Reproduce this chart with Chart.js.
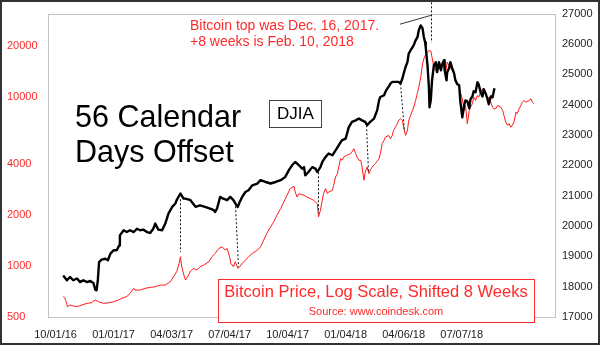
<!DOCTYPE html>
<html>
<head>
<meta charset="utf-8">
<title>DJIA vs Bitcoin, 56 Calendar Days Offset</title>
<script src="https://cdn.jsdelivr.net/npm/chart.js@4.4.1/dist/chart.umd.min.js"></script>
<style>
  html, body { margin: 0; padding: 0; background: #fff; }
  #chart { display: block; }
</style>
</head>
<body>
<canvas id="chart" width="600" height="345"></canvas>
<script>
// x axis is counted in days from 10/01/16
const dateTickDays = [0, 92, 184, 276, 368, 460, 552, 644];
const dateLabels = ['10/01/16', '01/01/17', '04/03/17', '07/04/17', '10/04/17', '01/04/18', '04/06/18', '07/07/18'];

const btcTicks = [500, 1000, 2000, 4000, 10000, 20000];
const djiaTicks = [17000, 18000, 19000, 20000, 21000, 22000, 23000, 24000, 25000, 26000, 27000];

// Dow Jones Industrial Average
const djiaDays = [12, 18, 23, 28, 34, 39, 44, 50, 55, 60, 63, 65, 67, 69, 73, 79, 83, 87, 92, 97,
  101, 102, 108, 113, 118, 124, 129, 134, 139, 145, 150, 155, 158, 163, 169, 174, 179, 185, 190, 192,
  198, 203, 206, 214, 222, 229, 237, 245, 251, 253, 256, 261, 266, 272, 277, 282, 287, 289, 292, 296,
  301, 306, 312, 320, 325, 333, 341, 349, 357, 364, 370, 375, 380, 386, 391, 394, 396, 401, 407, 412,
  415, 420, 423, 428, 433, 439, 444, 449, 454, 460, 465, 470, 476, 481, 486, 491, 494, 499, 505, 507,
  510, 513, 515, 521, 523, 526, 528, 531, 534, 539, 544, 547, 550, 552, 555, 558, 560, 563, 568, 571,
  574, 576, 579, 582, 584, 586, 587, 590, 592, 593, 595, 597, 600, 603, 605, 608, 611, 613, 616, 617,
  620, 621, 624, 626, 629, 632, 634, 637, 640, 642, 645, 648, 650, 653, 656, 658, 661, 663, 666, 669,
  671, 674, 677, 679, 682, 685, 687, 690, 693, 696];
const djiaValues = [18370, 18210, 18320, 18210, 18270, 18150, 18210, 18150, 18190, 18120, 17900, 17880, 18210, 18810, 18890, 18920, 18870, 19090, 19200, 19200,
  19360, 19690, 19860, 19800, 19860, 19800, 19910, 19860, 19880, 19800, 19770, 19910, 20080, 19880, 19860, 20080, 20410, 20630, 20740, 20850,
  21070, 20900, 20900, 20850, 20630, 20680, 20630, 20570, 20520, 20460, 20570, 20960, 20900, 20850, 20960, 20850, 20680, 20630, 20790, 20960,
  21120, 21180, 21340, 21400, 21510, 21450, 21400, 21450, 21510, 21610, 21840, 22000, 22110, 22000, 21890, 21940, 21670, 21780, 21940, 21890,
  21780, 21940, 22110, 22270, 22390, 22330, 22490, 22660, 22820, 22880, 23260, 23430, 23480, 23540, 23480, 23430, 23320, 23430, 23540, 23650,
  23810, 24140, 24250, 24310, 24420, 24530, 24580, 24690, 24750, 24750, 24750, 24690, 24860, 25020, 25240, 25400, 25680, 25790, 25960, 26120,
  26230, 26450, 26610, 26510, 26230, 26060, 25900, 25240, 24580, 23910, 24140, 24800, 25300, 25400, 25070, 25400, 25130, 25330, 25460, 25130,
  24800, 25070, 25200, 25400, 25200, 25030, 24800, 24670, 24640, 24080, 23580, 23980, 24140, 24110, 23880, 24180, 24270, 24440, 24410, 24740,
  24670, 24410, 24270, 24510, 24370, 24180, 24010, 24270, 24240, 24540];

// Bitcoin price, already shifted forward 8 weeks
const btcDays = [12, 15, 19, 23, 28, 34, 42, 50, 57, 63, 68, 76, 84, 92, 100, 105, 113, 118, 124, 126,
  134, 142, 150, 158, 166, 174, 182, 187, 192, 196, 198, 200, 203, 206, 210, 214, 219, 224, 229, 235,
  243, 248, 253, 259, 264, 269, 272, 276, 278, 282, 285, 289, 292, 296, 301, 306, 312, 320, 325, 330,
  335, 341, 346, 351, 357, 362, 367, 372, 378, 380, 383, 386, 388, 394, 399, 404, 409, 412, 415, 417,
  420, 423, 425, 428, 431, 433, 439, 441, 444, 447, 449, 452, 454, 457, 462, 468, 470, 473, 476, 478,
  481, 484, 486, 489, 491, 494, 497, 499, 502, 507, 513, 515, 518, 521, 523, 528, 531, 534, 536, 539,
  542, 544, 547, 550, 552, 555, 558, 560, 563, 566, 568, 571, 574, 576, 579, 582, 584, 587, 590, 592,
  595, 597, 600, 603, 605, 608, 611, 613, 616, 619, 621, 624, 626, 629, 632, 634, 637, 640, 642, 645,
  648, 650, 653, 656, 658, 661, 663, 666, 669, 671, 674, 677, 679, 682, 685, 687, 690, 693, 695, 698,
  701, 706, 709, 711, 714, 717, 719, 722, 724, 727, 730, 732, 735, 738, 740, 743, 746, 751, 754, 756, 759];
const btcValues = [660, 645, 575, 589, 581, 575, 589, 602, 607, 630, 615, 602, 607, 615, 630, 645, 660, 690, 738, 721,
  721, 738, 748, 754, 772, 772, 807, 864, 925, 1037, 1134, 998, 896, 826, 872, 934, 968, 946, 989, 1013,
  1059, 1134, 1187, 1270, 1298, 1241, 1270, 1134, 1037, 989, 1059, 968, 989, 1037, 1084, 1134, 1187, 1241, 1298, 1421,
  1556, 1702, 1821, 1994, 2184, 2389, 2616, 2865, 2956, 2736, 2556, 2677, 2652, 2616, 2546, 2501, 2444, 2389, 2337, 1949,
  2134, 2444, 2677, 2865, 2677, 2736, 2800, 2996, 3353, 3512, 3840, 4303, 4206, 4398, 4500, 4606, 4707, 4927, 4606, 4398,
  4206, 4206, 3840, 3206, 3588, 3840, 3512, 3672, 3840, 4021, 4303, 4606, 5273, 5515, 5766, 5901, 5643, 5901, 6315, 6603,
  6916, 7233, 7401, 7233, 6603, 5901, 6315, 7233, 7740, 8284, 8662, 9487, 10575, 11362, 12961, 15608, 16703, 17707, 18267, 18694,
  18600, 17069, 14844, 14252, 15252, 14584, 15608, 15252, 16323, 14252, 15950, 15252, 14903, 14252, 13628, 12734, 12159, 11362, 10617, 9708,
  8284, 8865, 6916, 8284, 8662, 9071, 9921, 9487, 10153, 9921, 10617, 11119, 10866, 10390, 9708, 9921, 9270, 8662, 8477, 8477,
  8865, 8662, 8284, 7740, 7067, 6758, 6916, 6603, 6758, 7067, 8094, 7921, 8477, 8865, 9270, 9487, 9270, 9487, 9708, 9270, 9071];

// dotted guides from a Dow turn (right axis) down to the matching bitcoin turn (left axis)
const guideDays = [[198, 198], [285, 289], [416, 416], [493, 496], [546, 553]];
const guideDjia = [20880, 20650, 21770, 23320, 24700];
const guideBtc = [1208, 989, 2049, 3574, 6230];

// marker for the bitcoin top plus 8 weeks, and the leader line from the note
const topMarkDay = 595;
const topMarkDjia = [27370, 26050];
const leaderDays = [546, 595];
const leaderDjia = [26650, 26940];

const FONT = '"Liberation Sans", Arial, Helvetica, sans-serif';
const RED = '#ff2a2a';

Chart.defaults.font.family = FONT;

const toPoints = (xs, ys) => xs.map((x, i) => ({ x: x, y: ys[i] }));

const decor = {
  id: 'decor',
  beforeDraw(chart) {
    const ctx = chart.ctx;
    ctx.save();
    ctx.fillStyle = '#fff';
    ctx.fillRect(0, 0, chart.width, chart.height);
    ctx.restore();
  },
  beforeDatasetsDraw(chart) {
    const { ctx, chartArea: a } = chart;
    ctx.save();
    ctx.strokeStyle = '#c4c4c4';
    ctx.lineWidth = 1;
    ctx.strokeRect(Math.round(a.left) + 0.5, Math.round(a.top) + 0.5,
      Math.round(a.right - a.left), Math.round(a.bottom - a.top));
    ctx.restore();
  },
  afterDraw(chart) {
    const ctx = chart.ctx;
    const xs = chart.scales.x;
    const yBtc = chart.scales.yBtc;
    const yDjia = chart.scales.yDjia;

    const seg = (x1, y1, x2, y2) => {
      ctx.beginPath();
      ctx.moveTo(x1, y1);
      ctx.lineTo(x2, y2);
      ctx.stroke();
    };

    ctx.save();

    // dotted guides
    ctx.strokeStyle = '#111';
    ctx.lineWidth = 1;
    ctx.setLineDash([2, 2]);
    guideDays.forEach((d, i) => {
      seg(Math.round(xs.getPixelForValue(d[0])) + 0.5, yDjia.getPixelForValue(guideDjia[i]),
          Math.round(xs.getPixelForValue(d[1])) + 0.5, yBtc.getPixelForValue(guideBtc[i]));
    });
    const mx = Math.round(xs.getPixelForValue(topMarkDay)) + 0.5;
    seg(mx, yDjia.getPixelForValue(topMarkDjia[0]), mx, yDjia.getPixelForValue(topMarkDjia[1]));
    ctx.setLineDash([]);

    // leader line from the note
    ctx.strokeStyle = '#333';
    seg(xs.getPixelForValue(leaderDays[0]), yDjia.getPixelForValue(leaderDjia[0]),
        xs.getPixelForValue(leaderDays[1]), yDjia.getPixelForValue(leaderDjia[1]));

    // note about the bitcoin top
    ctx.fillStyle = RED;
    ctx.textAlign = 'left';
    ctx.textBaseline = 'alphabetic';
    ctx.font = '14px ' + FONT;
    ctx.fillText('Bitcoin top was Dec. 16, 2017.', 190, 30);
    ctx.fillText('+8 weeks is Feb. 10, 2018', 190, 46);

    // big caption
    ctx.fillStyle = '#000';
    ctx.font = '30.5px ' + FONT;
    ctx.fillText('56 Calendar', 75, 127);
    ctx.fillText('Days Offset', 75, 162);

    // DJIA tag
    ctx.strokeStyle = '#444';
    ctx.strokeRect(269.5, 100.5, 52, 27);
    ctx.font = '17px ' + FONT;
    ctx.textAlign = 'center';
    ctx.textBaseline = 'middle';
    ctx.fillText('DJIA', 295.5, 114.5);

    // bitcoin legend box
    ctx.fillStyle = '#fff';
    ctx.fillRect(218, 279, 316, 43);
    ctx.strokeStyle = RED;
    ctx.strokeRect(218.5, 279.5, 316, 43);
    ctx.fillStyle = RED;
    ctx.textBaseline = 'alphabetic';
    ctx.font = '16.5px ' + FONT;
    ctx.fillText('Bitcoin Price, Log Scale, Shifted 8 Weeks', 376, 297);
    ctx.font = '11px ' + FONT;
    ctx.fillText('Source: www.coindesk.com', 376, 315);

    // outer frame
    ctx.strokeStyle = '#333';
    ctx.lineWidth = 2;
    ctx.strokeRect(1, 1, chart.width - 2, chart.height - 2);

    ctx.restore();
  }
};

new Chart(document.getElementById('chart'), {
  type: 'line',
  data: {
    datasets: [
      {
        label: 'DJIA',
        data: toPoints(djiaDays, djiaValues),
        yAxisID: 'yDjia',
        borderColor: '#000',
        borderWidth: 2.4,
        borderJoinStyle: 'round',
        pointRadius: 0,
        tension: 0
      },
      {
        label: 'Bitcoin',
        data: toPoints(btcDays, btcValues),
        yAxisID: 'yBtc',
        borderColor: '#ff1a1a',
        borderWidth: 1,
        pointRadius: 0,
        tension: 0
      }
    ]
  },
  options: {
    responsive: false,
    animation: false,
    events: [],
    layout: { padding: { left: 7, top: 13, right: 0, bottom: 0 } },
    plugins: {
      legend: { display: false },
      tooltip: { enabled: false }
    },
    scales: {
      x: {
        type: 'linear',
        min: -12,
        max: 792,
        grid: { display: false, drawTicks: false },
        border: { display: false },
        afterBuildTicks: s => { s.ticks = dateTickDays.map(v => ({ value: v })); },
        afterFit: s => { s.height = 28; },
        ticks: {
          padding: 11,
          color: '#222',
          font: { size: 11 },
          maxRotation: 0,
          autoSkip: false,
          callback: (v, i) => dateLabels[i]
        }
      },
      yBtc: {
        type: 'logarithmic',
        position: 'left',
        min: 500,
        max: 30900,
        grid: { display: false, drawTicks: false },
        border: { display: false },
        afterBuildTicks: s => { s.ticks = btcTicks.map(v => ({ value: v })); },
        afterFit: s => { s.width = 41; },
        ticks: {
          crossAlign: 'far',
          padding: 0,
          color: RED,
          font: { size: 11 },
          callback: v => String(v)
        }
      },
      yDjia: {
        type: 'linear',
        position: 'right',
        min: 17000,
        max: 27000,
        grid: { display: false, drawTicks: false },
        border: { display: false },
        afterBuildTicks: s => { s.ticks = djiaTicks.map(v => ({ value: v })); },
        afterFit: s => { s.width = 45; },
        ticks: {
          padding: 7,
          color: '#222',
          font: { size: 11 },
          callback: v => String(v)
        }
      }
    }
  },
  plugins: [decor]
});
</script>
</body>
</html>
